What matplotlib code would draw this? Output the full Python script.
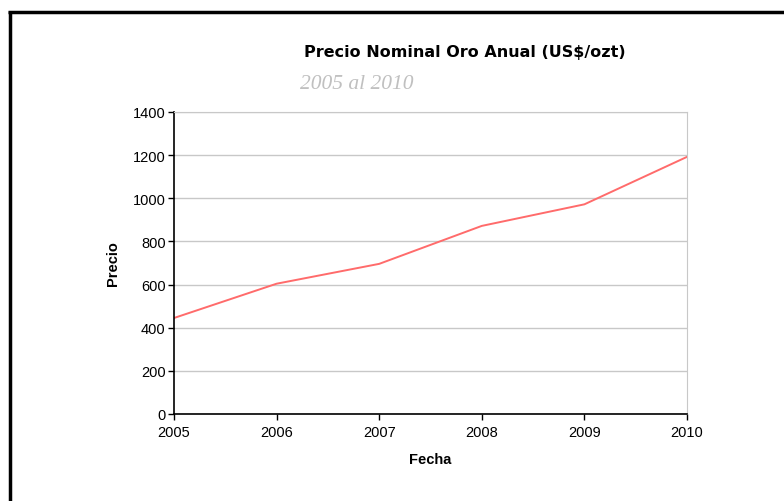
import matplotlib
matplotlib.use("Agg")
import matplotlib.pyplot as plt
from matplotlib.lines import Line2D

years = [2005, 2006, 2007, 2008, 2009, 2010]
precio = [445, 604, 696, 872, 972, 1192]
y_ticks = [0, 200, 400, 600, 800, 1000, 1200, 1400]

plt.rcParams['font.family'] = ['Liberation Sans', 'DejaVu Sans']

W, H = 784, 502
fig = plt.figure(figsize=(W / 100, H / 100), dpi=100)

# plot area in pixels: x 174..687, y 113..415
ax = fig.add_axes([174 / W, 1 - 415 / H, (687 - 174) / W, (415 - 113) / H])
ax.plot(years, precio, color='#ff6b6b', lw=1.4)

ax.set_xlim(2005, 2010)
ax.set_ylim(0, 1400)
ax.set_xticks(years)
ax.set_yticks(y_ticks)
ax.yaxis.grid(True, color='#c8c8c8', lw=1)
ax.set_axisbelow(True)
ax.tick_params(direction='out', length=4, width=1, colors='black', labelsize=10.5, pad=2)
ax.tick_params(axis='x', pad=4)
for s in ['top', 'right']:
    ax.spines[s].set_color('#c8c8c8')
for s in ['left', 'bottom']:
    ax.spines[s].set_color('black')
    ax.spines[s].set_linewidth(1.2)

ax.set_xlabel('Fecha', fontsize=10.5, fontweight='bold', labelpad=9)
ax.set_ylabel('Precio', fontsize=10.5, fontweight='bold', labelpad=9)

fig.text(465 / W, 1 - 53 / H, 'Precio Nominal Oro Anual (US$/ozt)', ha='center', va='center',
         fontsize=11.5, fontweight='bold', family=['DejaVu Sans'])
fig.text(300 / W, 1 - 85 / H, '2005 al 2010', ha='left', va='center', fontsize=15.5,
         style='italic', color='#c0c0c0', family=['Liberation Serif', 'DejaVu Serif'])

# frame lines (left and top)
fig.add_artist(Line2D([9.5 / W, 9.5 / W], [0, 1 - 11.5 / H], color='black', lw=2.5,
                      solid_capstyle='butt', transform=fig.transFigure))
fig.add_artist(Line2D([8.25 / W, 1], [1 - 12.75 / H, 1 - 12.75 / H], color='black', lw=2.5,
                      solid_capstyle='butt', transform=fig.transFigure))

fig.savefig('out.png', dpi=100)
